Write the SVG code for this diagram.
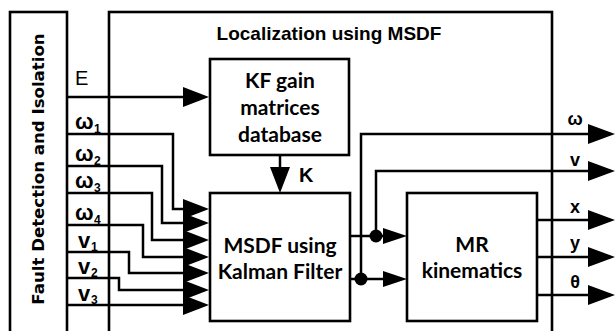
<svg xmlns="http://www.w3.org/2000/svg" width="616" height="331" viewBox="0 0 616 331">
<defs>
<style>
.box{fill:#fff;stroke:#000;stroke-width:2.6}
.frame{fill:none;stroke:#000;stroke-width:2.6}
.ln{fill:none;stroke:#000;stroke-width:2.5}
.ah{fill:#000;stroke:none}
.dot{fill:#000}
.bt{font-family:Lato,"Liberation Sans",sans-serif;font-weight:bold;font-size:21px;text-anchor:middle;fill:#000}
.tt{font-family:"Liberation Sans",Arial,sans-serif;font-weight:bold;font-size:19px;text-anchor:middle;fill:#000}
.vt{font-family:"DejaVu Sans",sans-serif;font-weight:bold;font-size:16.6px;text-anchor:middle;fill:#000}
.lb{font-family:"Liberation Sans",Arial,sans-serif;font-weight:bold;font-size:22px;fill:#000}
.sb{font-family:"Liberation Sans",Arial,sans-serif;font-weight:bold;font-size:12px;fill:#000}
.lr{font-family:"Liberation Sans",Arial,sans-serif;font-size:20px;fill:#000}
.ol{font-family:"Liberation Sans",Arial,sans-serif;font-weight:bold;font-size:18px;text-anchor:middle;fill:#000}
</style>
</defs>
<rect width="616" height="331" fill="#fff"/>

<g id="fdi">
<rect class="frame" x="10" y="12" width="57" height="340"/>
<text class="vt" transform="translate(44,169) rotate(-90)">Fault Detection and Isolation</text>
</g>

<g id="localization">
<rect class="frame" x="109" y="12" width="443" height="340"/>
<text class="tt" x="329" y="40">Localization using MSDF</text>
</g>

<g id="kf">
<rect class="box" x="210" y="59" width="139" height="96"/>
<text class="bt" x="280" y="88">KF gain</text>
<text class="bt" x="280" y="115">matrices</text>
<text class="bt" x="280" y="142">database</text>
</g>

<g id="msdf">
<rect class="box" x="210" y="193" width="140" height="128"/>
<text class="bt" x="280" y="253">MSDF using</text>
<text class="bt" x="280" y="279">Kalman Filter</text>
</g>

<g id="mr">
<rect class="box" x="407" y="193" width="130" height="128"/>
<text class="bt" x="472" y="252">MR</text>
<text class="bt" x="472" y="278">kinematics</text>
</g>

<g id="connectors">
<path class="ln" d="M67,97 H185"/>
<polygon class="ah" points="183,87 209,97 183,107"/>
<path class="ln" d="M67,134 H173 V209 H185"/>
<path class="ln" d="M67,166 H162 V223 H185"/>
<path class="ln" d="M67,193 H152 V240 H185"/>
<path class="ln" d="M67,225 H143 V257 H185"/>
<path class="ln" d="M67,252 H129 V273 H185"/>
<path class="ln" d="M67,278 H119 V290 H185"/>
<path class="ln" d="M67,305 H185"/>
<polygon class="ah" points="183,199 209,209 183,219"/>
<polygon class="ah" points="183,213 209,223 183,233"/>
<polygon class="ah" points="183,230 209,240 183,250"/>
<polygon class="ah" points="183,247 209,257 183,267"/>
<polygon class="ah" points="183,263 209,273 183,283"/>
<polygon class="ah" points="183,280 209,290 183,300"/>
<polygon class="ah" points="183,295 209,305 183,315"/>
<path class="ln" d="M280,155 V169"/>
<polygon class="ah" points="270,167 290,167 280,193"/>
<path class="ln" d="M350,236 H385"/>
<path class="ln" d="M350,279 H385"/>
<polygon class="ah" points="383,228 407,236 383,244"/>
<polygon class="ah" points="383,271 407,279 383,287"/>
<circle class="dot" cx="376" cy="236" r="6.5"/>
<circle class="dot" cx="361" cy="279" r="6.5"/>
<path class="ln" d="M361,279 V134 H590"/>
<path class="ln" d="M376,236 V171 H590"/>
<path class="ln" d="M537,220 H590"/>
<path class="ln" d="M537,257 H590"/>
<path class="ln" d="M537,295 H590"/>
<polygon class="ah" points="588,124 615,134 588,144"/>
<polygon class="ah" points="588,161 615,171 588,181"/>
<polygon class="ah" points="588,210 615,220 588,230"/>
<polygon class="ah" points="588,247 615,257 588,267"/>
<polygon class="ah" points="588,285 615,295 588,305"/>
</g>

<g id="labels">
<text class="lr" x="75" y="85">E</text>
<text class="lb" x="75" y="129">ω</text><text class="sb" x="94" y="133">1</text>
<text class="lb" x="75" y="161">ω</text><text class="sb" x="94" y="165">2</text>
<text class="lb" x="75" y="188">ω</text><text class="sb" x="94" y="192">3</text>
<text class="lb" x="75" y="220">ω</text><text class="sb" x="94" y="224">4</text>
<text class="lb" x="78" y="248">v</text><text class="sb" x="91" y="251">1</text>
<text class="lb" x="78" y="274">v</text><text class="sb" x="91" y="277">2</text>
<text class="lb" x="78" y="301">v</text><text class="sb" x="91" y="304">3</text>
<text class="lr" x="299" y="182" font-weight="bold">K</text>
<text class="ol" x="575" y="125">ω</text>
<text class="ol" x="575" y="166">v</text>
<text class="ol" x="575" y="213">x</text>
<text class="ol" x="575" y="249">y</text>
<text class="ol" x="575" y="288">θ</text>
</g>
</svg>
